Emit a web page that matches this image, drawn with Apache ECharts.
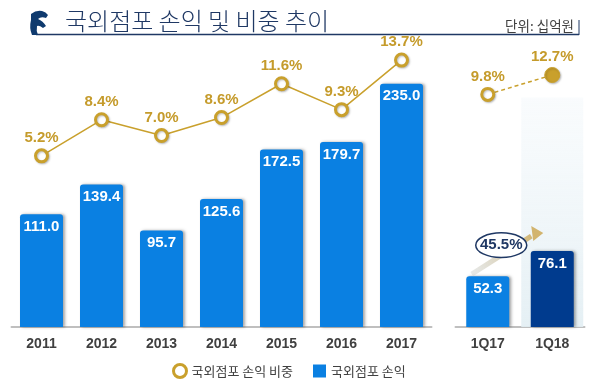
<!DOCTYPE html>
<html><head><meta charset="utf-8">
<script src="https://cdn.jsdelivr.net/npm/echarts@6/dist/echarts.min.js"></script>
<style>html,body{margin:0;padding:0;background:#fff}#c{width:594px;height:382px}</style>
</head><body><div id="c"></div>
<script>
const years = ['2011','2012','2013','2014','2015','2016','2017'];
const profit = [111.0,139.4,95.7,125.6,172.5,179.7,235.0];
const share = [5.2,8.4,7.0,8.6,11.6,9.3,13.7];
const quarters = ['1Q17','1Q18'];
const qProfit = [52.3,76.1];
const qShare = [9.8,12.7];
const growthText = '45.5%';
const highlightTop = ['-', 222];
const titleText = '국외점포 손익 및 비중 추이';
const unitText = '단위: 십억원';
const nameShare = '국외점포 손익 비중';
const nameProfit = '국외점포 손익';

const BLUE = '#0A80E2', NAVY = '#003B8E', GOLD = '#C9A02C', GOLDTXT = '#C59B2B';
const NUMFONT = '"Liberation Sans", Arial, sans-serif';
const KRFONT = '"Noto Sans CJK KR", sans-serif';

try {
  echarts.graphic.registerShape('logoShape', echarts.graphic.extendPath('M31,14 Q36,10 42,11 Q46,12 48,15 L46,18 Q41,16 38,19 Q43,21 46,26 L43,28 Q39,25 37,26 Q36,31 38,35 L32,35 Q29,28 31,20 Z', {}));
} catch (e) {}

const chart = echarts.init(document.getElementById('c'));
const axisCommon = {
  type: 'category',
  axisLine: {onZero: false, lineStyle: {color: '#BFBFBF', width: 2}},
  axisTick: {show: false},
  axisLabel: {color: '#404040', fontWeight: 'bold', fontSize: 14, margin: 10, fontFamily: NUMFONT}
};
const barStyle = {borderRadius: [3,3,0,0], shadowColor: 'rgba(0,0,0,0.35)', shadowBlur: 3, shadowOffsetX: 2};
const barLabel = {show: true, position: 'insideTop', distance: 5, color: '#fff', fontWeight: 'bold', fontSize: 15, fontFamily: NUMFONT, formatter: p => p.value.toFixed(1)};
const lineLabel = {show: true, position: 'top', distance: 3, color: GOLDTXT, fontWeight: 'bold', fontSize: 15, fontFamily: NUMFONT, formatter: p => p.value.toFixed(1) + '%'};

chart.setOption({
  animation: false,
  title: {text: titleText, left: 60, top: 4, textStyle: {fontSize: 24, fontWeight: 300, color: '#1F3864', fontFamily: KRFONT}},
  legend: {
    left: 167, top: 358, itemWidth: 13, itemHeight: 13, itemGap: 20,
    textStyle: {color: '#404040', fontSize: 13, fontFamily: KRFONT},
    data: [
      {name: nameShare, icon: 'circle', itemStyle: {color: '#fff', borderColor: GOLD, borderWidth: 3}},
      {name: nameProfit, icon: 'rect', itemStyle: {color: BLUE}}
    ],
    selectedMode: false
  },
  grid: [
    {left: 11.5, width: 420, top: 68, height: 259},
    {left: 455.5, width: 129, top: 68, height: 259}
  ],
  xAxis: [
    Object.assign({gridIndex: 0, data: years}, axisCommon),
    Object.assign({gridIndex: 1, data: quarters}, axisCommon),
    {type: 'category', gridIndex: 1, data: quarters, show: false}
  ],
  yAxis: [
    {type: 'value', gridIndex: 0, min: 4, max: 250, startValue: 4, show: false},
    {type: 'value', gridIndex: 0, min: -10, max: 13, show: false},
    {type: 'value', gridIndex: 1, min: 4, max: 250, startValue: 4, show: false},
    {type: 'value', gridIndex: 1, min: -25, max: 13.75, show: false}
  ],
  series: [
    {type: 'bar', name: 'hl', xAxisIndex: 2, yAxisIndex: 2, data: highlightTop, barWidth: 62, silent: true, z: 0,
     itemStyle: {color: new echarts.graphic.LinearGradient(0,0,0,1,[{offset:0,color:'rgba(243,248,251,0.5)'},{offset:1,color:'rgba(226,238,243,0.9)'}])}},
    {type: 'bar', name: nameProfit, xAxisIndex: 0, yAxisIndex: 0, data: profit, barWidth: 43, itemStyle: Object.assign({color: BLUE}, barStyle), label: barLabel, z: 2},
    {type: 'bar', name: nameProfit, xAxisIndex: 1, yAxisIndex: 2, barWidth: 43, z: 2,
     data: qProfit.map((v,i) => ({value: v, itemStyle: {color: i === 1 ? NAVY : BLUE}})),
     itemStyle: Object.assign({color: BLUE}, barStyle), label: barLabel},
    {type: 'line', name: nameShare, xAxisIndex: 0, yAxisIndex: 1, data: share, clip: false, z: 5,
     lineStyle: {color: GOLD, width: 1.5}, symbol: 'circle', symbolSize: 12,
     itemStyle: {color: '#fff', borderColor: GOLD, borderWidth: 3, shadowColor: 'rgba(0,0,0,0.25)', shadowBlur: 2, shadowOffsetX: 1, shadowOffsetY: 1},
     label: lineLabel},
    {type: 'line', name: nameShare, xAxisIndex: 1, yAxisIndex: 3, clip: false, z: 5,
     lineStyle: {color: GOLD, width: 1.5, type: [4,3]}, symbol: 'circle', symbolSize: 12,
     data: qShare.map((v,i) => i === 1 ? {value: v, symbolSize: 15, itemStyle: {color: GOLD, borderColor: GOLD, borderWidth: 1}} : {value: v}),
     itemStyle: {color: '#fff', borderColor: GOLD, borderWidth: 3, shadowColor: 'rgba(0,0,0,0.25)', shadowBlur: 2, shadowOffsetX: 1, shadowOffsetY: 1},
     label: lineLabel}
  ]
});

const p17 = chart.convertToPixel({xAxisIndex: 1, yAxisIndex: 2}, [quarters[0], qProfit[0]]);
const p18 = chart.convertToPixel({xAxisIndex: 1, yAxisIndex: 2}, [quarters[1], qProfit[1]]);
const ex = p17[0] + 13.5, ey = p17[1] - 31, rx = 25.5, ry = 12.3;
const tipX = p18[0] - 9, tipY = p18[1] - 18;
const deco = [
  {type: 'line', shape: {x1: 36, y1: 34.5, x2: 579, y2: 34.5}, style: {stroke: '#1F3864', lineWidth: 1.5}},
  {type: 'line', shape: {x1: 579, y1: 20, x2: 579, y2: 35}, style: {stroke: '#1F3864', lineWidth: 1}},
  {type: 'text', x: 574, y: 26, style: {text: unitText, fontSize: 13.5, fill: '#404040', fontFamily: KRFONT, align: 'right', verticalAlign: 'middle'}},
  {type: 'line', z: 10, shape: {x1: p17[0] - 16, y1: p17[1] - 2, x2: tipX - 12, y2: tipY + 3},
   style: {lineWidth: 5, stroke: new echarts.graphic.LinearGradient(0,1,1,0,[{offset:0,color:'rgba(200,205,205,0.4)'},{offset:1,color:'#D2B46E'}])}},
  {type: 'polygon', z: 10, shape: {points: [[tipX, tipY], [tipX - 12, tipY - 7], [tipX - 10, tipY + 8]]}, style: {fill: '#D2B46E'}},
  {type: 'ellipse', z: 11, shape: {cx: ex, cy: ey, rx: rx, ry: ry}, style: {fill: '#fff', stroke: '#1F3864', lineWidth: 1.5}},
  {type: 'text', z: 12, x: ex, y: ey, style: {text: growthText, fontSize: 15, fontWeight: 'bold', fill: '#1F3864', fontFamily: NUMFONT, align: 'center', verticalAlign: 'middle'}}
];
chart.setOption({graphic: deco});
try { chart.setOption({graphic: [{type: 'logoShape', id: 'logo', style: {fill: '#0F3A6E'}}]}); } catch (e) {}
</script></body></html>
